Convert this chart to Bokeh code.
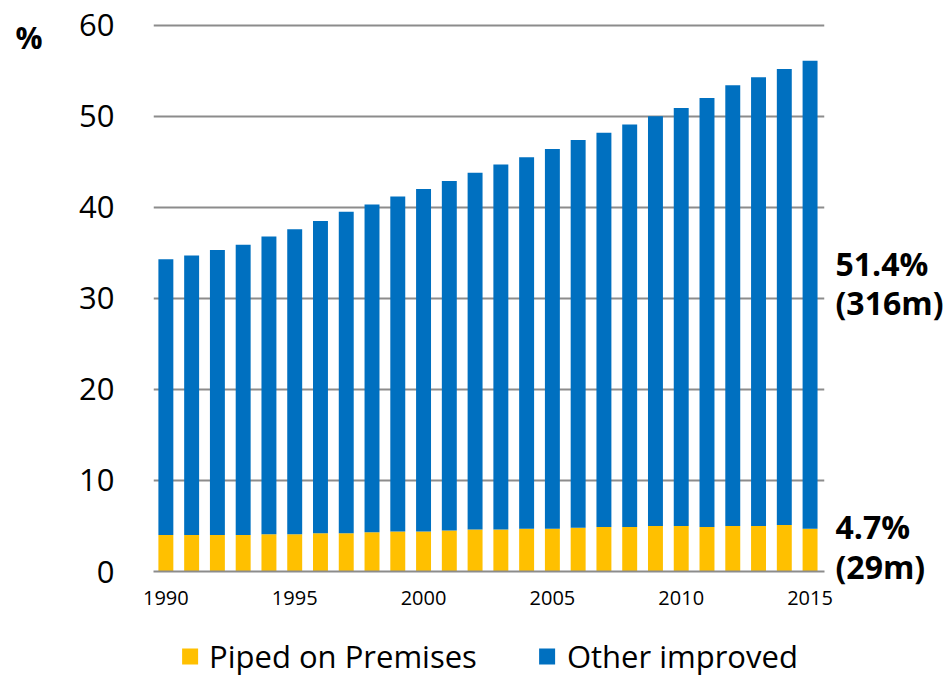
from bokeh.plotting import figure
from bokeh.layouts import column
from bokeh.models import (Range1d, Legend, LegendItem, FixedTicker, ColumnDataSource,
                          LinearAxis)
from bokeh.embed import file_html
from bokeh.resources import INLINE

# Population share (%) by drinking water service level
years = list(range(1990, 2016))
piped = [4.0, 4.0, 4.0, 4.0, 4.1, 4.1, 4.2, 4.2, 4.3, 4.4, 4.4, 4.5, 4.6,
         4.6, 4.7, 4.7, 4.8, 4.9, 4.9, 5.0, 5.0, 4.9, 5.0, 5.0, 5.1, 4.7]
total = [34.3, 34.7, 35.3, 35.9, 36.8, 37.6, 38.5, 39.5, 40.3, 41.2, 42.0,
         42.9, 43.8, 44.7, 45.5, 46.4, 47.4, 48.2, 49.1, 50.0, 50.9, 52.0,
         53.4, 54.3, 55.2, 56.1]
other = [round(t - p, 1) for t, p in zip(total, piped)]
other[-1] = 51.4
y_ticks = [0, 10, 20, 30, 40, 50, 60]
x_ticks = [1990, 1995, 2000, 2005, 2010, 2015]
series_names = ["Piped on Premises", "Other improved"]
end_labels = ["4.7%\n(29m)", "51.4%\n(316m)"]
unit_label = "%"

YELLOW = "#FFC000"
BLUE = "#0070C0"
GRID = "#8c8c8c"
FONT = "Open Sans"

src = ColumnDataSource(dict(year=years, piped=piped, other=other))

p = figure(width=946, height=620, output_backend="svg", toolbar_location=None,
           x_range=Range1d(1989.52, 2015.56), y_range=Range1d(0, 60.3),
           min_border_left=153, min_border_right=118, min_border_top=22,
           min_border_bottom=49, outline_line_color=None)

r = p.vbar_stack(["piped", "other"], x="year", width=0.58, source=src,
                 color=[YELLOW, BLUE], line_color=None)

# gridlines
p.xgrid.visible = False
p.ygrid.ticker = FixedTicker(ticks=y_ticks)
p.ygrid.grid_line_color = GRID
p.ygrid.grid_line_width = 2

# y axis: labels only
p.yaxis.ticker = FixedTicker(ticks=y_ticks)
p.yaxis.axis_line_color = None
p.yaxis.major_tick_line_color = None
p.yaxis.minor_tick_line_color = None
p.yaxis.major_label_standoff = 33
p.yaxis.major_label_text_font = FONT
p.yaxis.major_label_text_font_size = "31px"
p.yaxis.major_label_text_color = "black"

# x axis
p.xaxis.ticker = FixedTicker(ticks=x_ticks)
p.xaxis.axis_line_color = GRID
p.xaxis.axis_line_width = 2
p.xaxis.major_tick_line_color = None
p.xaxis.minor_tick_line_color = None
p.xaxis.major_label_standoff = 13
p.xaxis.major_label_text_font = FONT
p.xaxis.major_label_text_font_size = "20px"
p.xaxis.major_label_text_color = "black"

# unit label, placed near the top of the value scale
unit_axis = LinearAxis(ticker=FixedTicker(ticks=[58.6]),
                       major_label_overrides={58.6: unit_label},
                       axis_line_color=None, major_tick_line_color=None,
                       minor_tick_line_color=None, major_label_standoff=28,
                       major_label_text_font=FONT, major_label_text_font_size="30px",
                       major_label_text_font_style="bold",
                       major_label_text_color="black")
p.add_layout(unit_axis, "left")

# end-of-series value labels, beside each 2015 segment
label_pos = [piped[-1] / 2 + 0.4, piped[-1] + other[-1] / 2 + 1.3]
end_axis = LinearAxis(ticker=FixedTicker(ticks=label_pos),
                      major_label_overrides=dict(zip(label_pos, end_labels)),
                      axis_line_color=None, major_tick_line_color=None,
                      minor_tick_line_color=None, major_label_standoff=5,
                      major_label_text_font=FONT, major_label_text_font_size="32px",
                      major_label_text_font_style="bold",
                      major_label_text_line_height=0.92,
                      major_label_text_color="black")
p.add_layout(end_axis, "right")

# legend strip below the chart; swatch renderers have zero size
leg = figure(width=946, height=57, output_backend="svg", toolbar_location=None,
             x_range=Range1d(0, 1), y_range=Range1d(0, 1),
             min_border_left=153, min_border_right=118, min_border_top=14,
             min_border_bottom=0, outline_line_color=None)
leg.axis.visible = False
leg.grid.visible = False
sw_piped = leg.vbar(x=[0.5], top=[0], bottom=[0], width=0, color=YELLOW, line_color=None)
sw_other = leg.vbar(x=[0.5], top=[0], bottom=[0], width=0, color=BLUE, line_color=None)
legend = Legend(items=[LegendItem(label=series_names[0], renderers=[sw_piped]),
                       LegendItem(label=series_names[1], renderers=[sw_other])],
                orientation="horizontal", location="center",
                glyph_width=20, glyph_height=20, spacing=60, label_standoff=10,
                label_text_font=FONT, label_text_font_size="31px",
                label_text_color="black", border_line_color=None,
                background_fill_alpha=0, margin=0, padding=0)
leg.add_layout(legend, "center")

open("out.html", "w").write(file_html(column(p, leg, spacing=0), INLINE))
